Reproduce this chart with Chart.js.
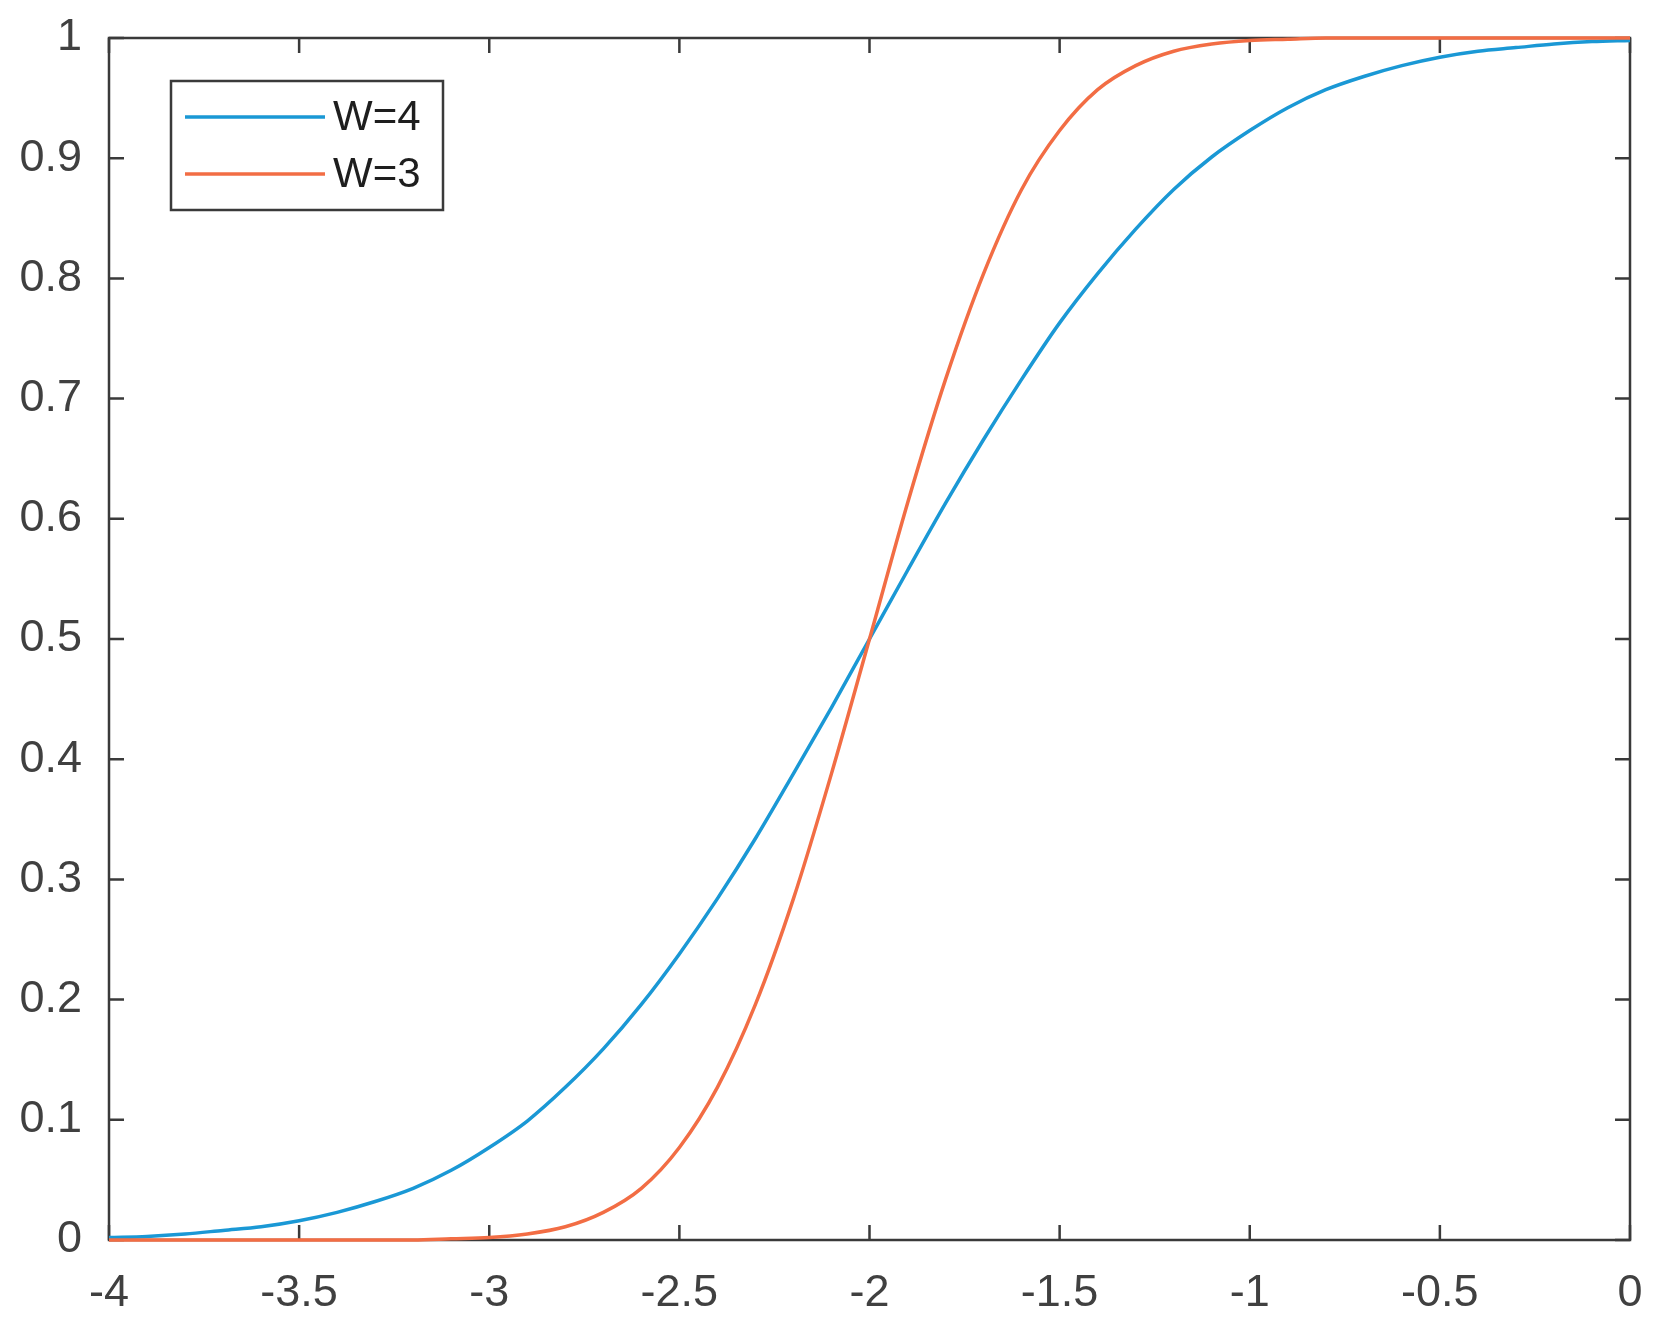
<!DOCTYPE html>
<html>
<head>
<meta charset="utf-8">
<script src="https://cdn.jsdelivr.net/npm/chart.js@4.4.1/dist/chart.umd.min.js"></script>
<style>
  html, body { margin: 0; padding: 0; background: #ffffff; }
  canvas { display: block; }
</style>
</head>
<body>
<canvas id="c" width="1659" height="1331"></canvas>
<script>
// ---- data ----
const xValues = [-4.0, -3.9, -3.8, -3.7, -3.6, -3.5, -3.4, -3.3, -3.2, -3.1,
                 -3.0, -2.9, -2.8, -2.7, -2.6, -2.5, -2.4, -2.3, -2.2, -2.1,
                 -2.0, -1.9, -1.8, -1.7, -1.6, -1.5, -1.4, -1.3, -1.2, -1.1,
                 -1.0, -0.9, -0.8, -0.7, -0.6, -0.5, -0.4, -0.3, -0.2, -0.1, 0.0];
const seriesW4 = [0.002, 0.003, 0.005, 0.008, 0.011, 0.016, 0.023, 0.032, 0.043, 0.058,
                  0.077, 0.099, 0.127, 0.159, 0.196, 0.238, 0.284, 0.334, 0.388, 0.443,
                  0.500, 0.557, 0.613, 0.666, 0.716, 0.763, 0.804, 0.841, 0.874, 0.901,
                  0.923, 0.942, 0.957, 0.968, 0.977, 0.984, 0.989, 0.992, 0.995, 0.997, 0.998];
const seriesW3 = [0.000, 0.000, 0.000, 0.000, 0.000, 0.000, 0.000, 0.000, 0.000, 0.001,
                  0.002, 0.005, 0.011, 0.023, 0.043, 0.077, 0.127, 0.196, 0.284, 0.388,
                  0.500, 0.613, 0.716, 0.804, 0.874, 0.923, 0.957, 0.977, 0.989, 0.995,
                  0.998, 0.999, 1.000, 1.000, 1.000, 1.000, 1.000, 1.000, 1.000, 1.000, 1.000];
const seriesLabels = ['W=4', 'W=3'];
const xTickValues = [-4, -3.5, -3, -2.5, -2, -1.5, -1, -0.5, 0];
const xTickLabels = ['-4', '-3.5', '-3', '-2.5', '-2', '-1.5', '-1', '-0.5', '0'];
const yTickValues = [0, 0.1, 0.2, 0.3, 0.4, 0.5, 0.6, 0.7, 0.8, 0.9, 1];
const yTickLabels = ['0', '0.1', '0.2', '0.3', '0.4', '0.5', '0.6', '0.7', '0.8', '0.9', '1'];

const BLUE = '#1a98d5';
const ORANGE = '#f26d44';
const AXIS = '#3a3a3a';
const TICKFONT = { family: "'Liberation Sans', Arial, sans-serif", size: 45 };

const toPoints = (ys) => xValues.map((x, i) => ({ x: x, y: ys[i] }));

const frameBehind = {
  id: 'frameBehind',
  beforeDatasetsDraw(chart) {
    const { ctx, chartArea: a, scales } = chart;
    ctx.save();
    ctx.strokeStyle = AXIS;
    ctx.lineWidth = 2.5;
    ctx.strokeRect(a.left, a.top, a.right - a.left, a.bottom - a.top);
    const tl = 15;
    ctx.beginPath();
    xTickValues.forEach(v => {
      const px = scales.x.getPixelForValue(v);
      ctx.moveTo(px, a.bottom); ctx.lineTo(px, a.bottom - tl);
      ctx.moveTo(px, a.top); ctx.lineTo(px, a.top + tl);
    });
    yTickValues.forEach(v => {
      const py = scales.y.getPixelForValue(v);
      ctx.moveTo(a.left, py); ctx.lineTo(a.left + tl, py);
      ctx.moveTo(a.right, py); ctx.lineTo(a.right - tl, py);
    });
    ctx.stroke();
    ctx.restore();
  }
};

const boxLegend = {
  id: 'boxLegend',
  afterDraw(chart) {
    const { ctx, chartArea: a } = chart;
    const bx = a.left + 62, by = a.top + 43, bw = 272, bh = 129;
    ctx.save();
    ctx.fillStyle = '#ffffff';
    ctx.fillRect(bx, by, bw, bh);
    ctx.strokeStyle = AXIS;
    ctx.lineWidth = 2.5;
    ctx.strokeRect(bx, by, bw, bh);
    chart.data.datasets.forEach((ds, i) => {
      const y = by + 36 + i * 57;
      ctx.strokeStyle = ds.borderColor;
      ctx.lineWidth = 3.5;
      ctx.beginPath();
      ctx.moveTo(bx + 14, y);
      ctx.lineTo(bx + 154, y);
      ctx.stroke();
      ctx.fillStyle = '#1e1e1e';
      ctx.font = "42px 'Liberation Sans', Arial, sans-serif";
      ctx.textAlign = 'left';
      ctx.textBaseline = 'middle';
      ctx.fillText(ds.label, bx + 162, y + 1);
    });
    ctx.restore();
  }
};

new Chart(document.getElementById('c'), {
  type: 'line',
  data: {
    datasets: [
      { label: seriesLabels[0], data: toPoints(seriesW4), borderColor: BLUE, borderWidth: 3.5,
        pointRadius: 0, cubicInterpolationMode: 'monotone', fill: false, order: 2, clip: false },
      { label: seriesLabels[1], data: toPoints(seriesW3), borderColor: ORANGE, borderWidth: 3.5,
        pointRadius: 0, cubicInterpolationMode: 'monotone', fill: false, order: 1, clip: false }
    ]
  },
  options: {
    responsive: false,
    animation: false,
    devicePixelRatio: 1,
    layout: { padding: { top: 38, right: 29, left: 0, bottom: 0 } },
    plugins: { legend: { display: false }, tooltip: { enabled: false } },
    scales: {
      x: {
        type: 'linear', min: -4, max: 0,
        grid: { display: false, drawTicks: false },
        border: { display: false },
        afterBuildTicks: (s) => { s.ticks = xTickValues.map(v => ({ value: v })); },
        afterFit: (s) => { s.height = 91; s.paddingLeft = 0; s.paddingRight = 0; s.paddingTop = 0; s.paddingBottom = 0; },
        ticks: {
          color: '#404040', font: TICKFONT, padding: 27, maxRotation: 0, autoSkip: false,
          callback: (v) => xTickLabels[xTickValues.indexOf(v)] ?? ''
        }
      },
      y: {
        type: 'linear', min: 0, max: 1,
        grid: { display: false, drawTicks: false },
        border: { display: false },
        afterBuildTicks: (s) => { s.ticks = yTickValues.map(v => ({ value: v })); },
        afterFit: (s) => { s.width = 109; s.paddingLeft = 0; s.paddingRight = 0; s.paddingTop = 0; s.paddingBottom = 0; },
        ticks: {
          color: '#404040', font: TICKFONT, padding: 27, autoSkip: false,
          callback: (v) => yTickLabels[yTickValues.findIndex(t => Math.abs(t - v) < 1e-9)] ?? ''
        }
      }
    }
  },
  plugins: [frameBehind, boxLegend]
});
</script>
</body>
</html>
